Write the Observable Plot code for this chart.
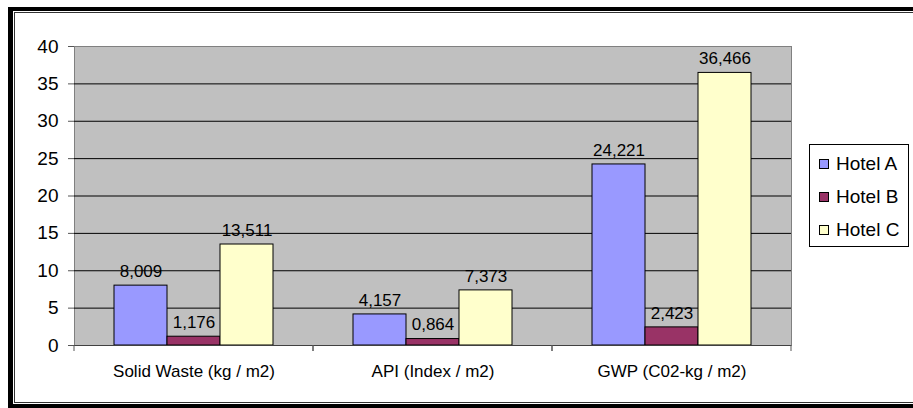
<!DOCTYPE html>
<html><head><meta charset="utf-8">
<script src="https://cdn.jsdelivr.net/npm/d3@7"></script>
<script src="https://cdn.jsdelivr.net/npm/@observablehq/plot@0.6"></script>
<style>
html,body{margin:0;padding:0;background:#fff;}
#wrap{position:relative;width:913px;height:408px;overflow:hidden;font-family:"Liberation Sans",Arial,sans-serif;}
#chart{position:absolute;left:0;top:0;}
#border{position:absolute;left:8px;top:7px;width:1000px;height:401px;box-sizing:border-box;border-style:solid;border-color:#000;border-width:4px 4px 4px 5px;pointer-events:none;}
#border::after{content:"";position:absolute;left:1px;top:1px;right:1px;bottom:1px;border:1px solid #333;}
#legend{position:absolute;left:809px;top:144px;width:100px;height:103px;box-sizing:border-box;border:1px solid #000;background:#fff;padding-top:2px;}
.item{display:flex;align-items:center;height:33px;font-size:19px;color:#000;}
.sw{width:10px;height:10px;box-sizing:border-box;border:1px solid #000;margin-left:9px;margin-right:7px;}
</style></head>
<body>
<div id="wrap"><div id="chart"></div><div id="legend"></div><div id="border"></div></div>
<script>
const categories = ["Solid Waste (kg / m2)", "API (Index / m2)", "GWP (C02-kg / m2)"];
const hotels = ["Hotel A", "Hotel B", "Hotel C"];
const hotelA = [8.009, 4.157, 24.221];
const hotelB = [1.176, 0.864, 2.423];
const hotelC = [13.511, 7.373, 36.466];
const colors = ["#9999ff", "#993366", "#ffffcc"];
const yTicks = [0, 5, 10, 15, 20, 25, 30, 35, 40];

const series = [hotelA, hotelB, hotelC];
const rows = categories.flatMap((c, i) => hotels.map((h, j) => ({category: c, hotel: h, value: series[j][i]})));
const fmt = v => v.toFixed(3).replace(".", ",");

function boundaryTicks(index, scales, values, dimensions, context) {
  const ns = "http://www.w3.org/2000/svg";
  const doc = context.document;
  const g = doc.createElementNS(ns, "g");
  const y0 = dimensions.height - dimensions.marginBottom;
  const xs = [dimensions.marginLeft, dimensions.width - dimensions.marginRight];
  for (const x of xs) {
    const l = doc.createElementNS(ns, "line");
    l.setAttribute("x1", x); l.setAttribute("x2", x);
    l.setAttribute("y1", y0); l.setAttribute("y2", y0 + 6);
    l.setAttribute("stroke", "#555");
    g.appendChild(l);
  }
  return g;
}

const plot = Plot.plot({
  width: 913, height: 408,
  marginLeft: 73, marginRight: 121, marginTop: 46, marginBottom: 63,
  style: {fontFamily: "Liberation Sans, Arial, sans-serif", color: "#000", background: "transparent"},
  fx: {domain: categories, padding: 0, label: null},
  x: {domain: hotels, paddingInner: 0, paddingOuter: 0.75, axis: null},
  y: {domain: [0, 40], label: null},
  color: {domain: hotels, range: colors},
  marks: [
    Plot.frame({fill: "#c0c0c0", stroke: "#808080", facet: "super"}),
    Plot.ruleY(yTicks.filter(d => d > 0 && d < 40), {stroke: "#000"}),
    Plot.barY(rows, {fx: "category", x: "hotel", y: "value", fill: "hotel", stroke: "#000", strokeWidth: 1}),
    Plot.ruleY([0], {stroke: "#404040"}),
    Plot.text(rows, {fx: "category", x: "hotel", y: "value", text: d => fmt(d.value), dy: -14, fontSize: 17, fill: "#000"}),
    Plot.axisY({ticks: yTicks, tickSize: 6, tickPadding: 10, fontSize: 19, stroke: "#555", tickFormat: d => d, label: null}),
    Plot.axisFx({anchor: "bottom", tickSize: 0, tickPadding: 19, fontSize: 17, label: null}),
    boundaryTicks
  ]
});
document.getElementById("chart").appendChild(plot);

const legend = d3.select("#legend");
hotels.forEach((h, i) => {
  const it = legend.append("div").attr("class", "item");
  it.append("div").attr("class", "sw").style("background", colors[i]);
  it.append("span").text(h);
});
</script>
</body></html>
